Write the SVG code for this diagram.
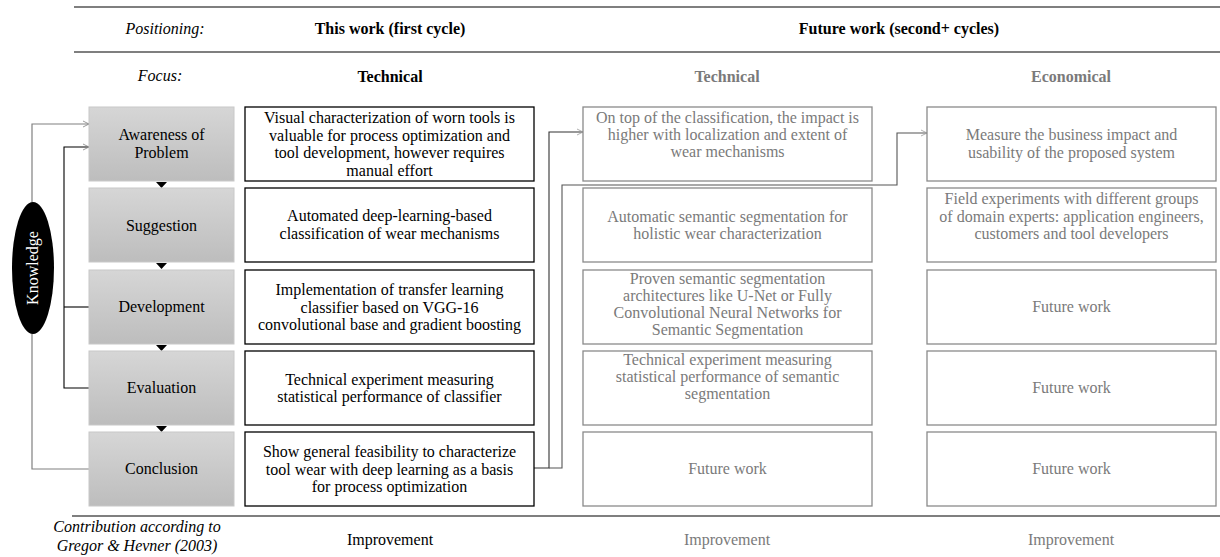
<svg xmlns="http://www.w3.org/2000/svg" width="1220" height="557" viewBox="0 0 1220 557">
<defs>
<linearGradient id="g" x1="0" y1="0" x2="0" y2="1">
<stop offset="0" stop-color="#d6d6d6"/>
<stop offset="1" stop-color="#bdbdbd"/>
</linearGradient>
<marker id="oa" markerWidth="10" markerHeight="10" refX="7" refY="4" orient="auto" markerUnits="userSpaceOnUse">
<path d="M1,1 L7,4 L1,7" fill="none" stroke="#808080" stroke-width="0.8"/>
</marker>
<marker id="oa2" markerWidth="10" markerHeight="10" refX="7" refY="4" orient="auto" markerUnits="userSpaceOnUse">
<path d="M1,1 L7,4 L1,7" fill="none" stroke="#999" stroke-width="0.8"/>
</marker>
</defs>
<style>
text{font-family:"Liberation Serif","Times New Roman",serif;font-size:16px;text-anchor:middle}
.hd{font-weight:bold}
.it{font-style:italic}
.gt{fill:#7a7a7a}
.step{fill:url(#g);stroke:#c8c8c8;stroke-width:1}
.b1{fill:#fff;stroke:#000;stroke-width:1.3}
.b2{fill:#fff;stroke:#8a8a8a;stroke-width:1.3}
.rule{stroke:#000;stroke-width:1.2}
.tri{fill:#000}
</style>
<g id="header">
<line class="rule" x1="74" y1="7" x2="1220" y2="7"/>
<line class="rule" x1="74" y1="52" x2="1220" y2="52"/>
<line class="rule" x1="72" y1="516" x2="1220" y2="516"/>
<text class="it" x="165" y="34">Positioning:</text>
<text class="hd" x="390" y="34">This work (first cycle)</text>
<text class="hd" x="899" y="34">Future work (second+ cycles)</text>
<text class="it" x="160" y="81">Focus:</text>
<text class="hd" x="390" y="82">Technical</text>
<text class="hd gt" x="727" y="82">Technical</text>
<text class="hd gt" x="1071" y="82">Economical</text>
<text class="it" x="137" y="532">Contribution according to</text>
<text class="it" x="137" y="551">Gregor &amp; Hevner (2003)</text>
<text x="390" y="545">Improvement</text>
<text class="gt" x="727" y="545">Improvement</text>
<text class="gt" x="1071" y="545">Improvement</text>
</g>
<g id="knowledge">
<ellipse cx="33" cy="268" rx="21" ry="66" fill="#000"/>
<text x="0" y="0" fill="#fff" font-size="14" transform="translate(38,268) rotate(-90)">Knowledge</text>
</g>
<g id="connectors" fill="none">
<path d="M32,202 V124 H89" stroke="#808080" stroke-width="1.2" marker-end="url(#oa)"/>
<path d="M32,334 V469 H89" stroke="#808080" stroke-width="1.2"/>
<path d="M89,388 H64 V147 H89" stroke="#000" stroke-width="1.1" marker-end="url(#oa)"/>
<path d="M64,307 H89" stroke="#000" stroke-width="1.1"/>
<path d="M534,468 H549 V132 H583" stroke="#333" stroke-width="1.1" marker-end="url(#oa2)"/>
<path d="M549,468 H562 V185 H897 V133 H927" stroke="#555" stroke-width="1.1" marker-end="url(#oa2)"/>
<polygon class="tri" points="156,182 167,182 161.5,188"/>
<polygon class="tri" points="156,263 167,263 161.5,269"/>
<polygon class="tri" points="156,345 167,345 161.5,351"/>
<polygon class="tri" points="156,426 167,426 161.5,432"/>
</g>
<g id="awareness"><rect class="step" x="89" y="107" width="145" height="74"/><text x="161.5" y="140">Awareness of</text><text x="161.5" y="158">Problem</text></g>
<g id="suggestion"><rect class="step" x="89" y="188" width="145" height="74"/><text x="161.5" y="231">Suggestion</text></g>
<g id="development"><rect class="step" x="89" y="270" width="145" height="74"/><text x="161.5" y="312">Development</text></g>
<g id="evaluation"><rect class="step" x="89" y="351" width="145" height="74"/><text x="161.5" y="393">Evaluation</text></g>
<g id="conclusion"><rect class="step" x="89" y="432" width="145" height="74"/><text x="161.5" y="474">Conclusion</text></g>

<g id="c1r1"><rect class="b1" x="245" y="107" width="289" height="74"/><text x="389.5" y="123">Visual characterization of worn tools is</text><text x="389.5" y="141">valuable for process optimization and</text><text x="389.5" y="158">tool development, however requires</text><text x="389.5" y="176">manual effort</text></g>
<g id="c1r2"><rect class="b1" x="245" y="188" width="289" height="74"/><text x="389.5" y="221">Automated deep-learning-based</text><text x="389.5" y="239">classification of wear mechanisms</text></g>
<g id="c1r3"><rect class="b1" x="245" y="270" width="289" height="74"/><text x="389.5" y="295">Implementation of transfer learning</text><text x="389.5" y="313">classifier based on VGG-16</text><text x="389.5" y="330">convolutional base and gradient boosting</text></g>
<g id="c1r4"><rect class="b1" x="245" y="351" width="289" height="74"/><text x="389.5" y="385">Technical experiment measuring</text><text x="389.5" y="402">statistical performance of classifier</text></g>
<g id="c1r5"><rect class="b1" x="245" y="432" width="289" height="74"/><text x="389.5" y="457">Show general feasibility to characterize</text><text x="389.5" y="475">tool wear with deep learning as a basis</text><text x="389.5" y="492">for process optimization</text></g>

<g id="c2r1"><rect class="b2" x="583" y="107" width="289" height="74"/><text class="gt" x="727.5" y="123">On top of the classification, the impact is</text><text class="gt" x="727.5" y="140">higher with localization and extent of</text><text class="gt" x="727.5" y="157">wear mechanisms</text></g>
<g id="c2r2"><rect class="b2" x="583" y="188" width="289" height="74"/><text class="gt" x="727.5" y="222">Automatic semantic segmentation for</text><text class="gt" x="727.5" y="239">holistic wear characterization</text></g>
<g id="c2r3"><rect class="b2" x="583" y="270" width="289" height="74"/><text class="gt" x="727.5" y="284">Proven semantic segmentation</text><text class="gt" x="727.5" y="301">architectures like U-Net or Fully</text><text class="gt" x="727.5" y="318">Convolutional Neural Networks for</text><text class="gt" x="727.5" y="335">Semantic Segmentation</text></g>
<g id="c2r4"><rect class="b2" x="583" y="351" width="289" height="74"/><text class="gt" x="727.5" y="365">Technical experiment measuring</text><text class="gt" x="727.5" y="382">statistical performance of semantic</text><text class="gt" x="727.5" y="399">segmentation</text></g>
<g id="c2r5"><rect class="b2" x="583" y="432" width="289" height="74"/><text class="gt" x="727.5" y="474">Future work</text></g>

<g id="c3r1"><rect class="b2" x="927" y="107" width="289" height="74"/><text class="gt" x="1071.5" y="140">Measure the business impact and</text><text class="gt" x="1071.5" y="158">usability of the proposed system</text></g>
<g id="c3r2"><rect class="b2" x="927" y="188" width="289" height="74"/><text class="gt" x="1071.5" y="204">Field experiments with different groups</text><text class="gt" x="1071.5" y="222">of domain experts: application engineers,</text><text class="gt" x="1071.5" y="239">customers and tool developers</text></g>
<g id="c3r3"><rect class="b2" x="927" y="270" width="289" height="74"/><text class="gt" x="1071.5" y="312">Future work</text></g>
<g id="c3r4"><rect class="b2" x="927" y="351" width="289" height="74"/><text class="gt" x="1071.5" y="393">Future work</text></g>
<g id="c3r5"><rect class="b2" x="927" y="432" width="289" height="74"/><text class="gt" x="1071.5" y="474">Future work</text></g>
</svg>
